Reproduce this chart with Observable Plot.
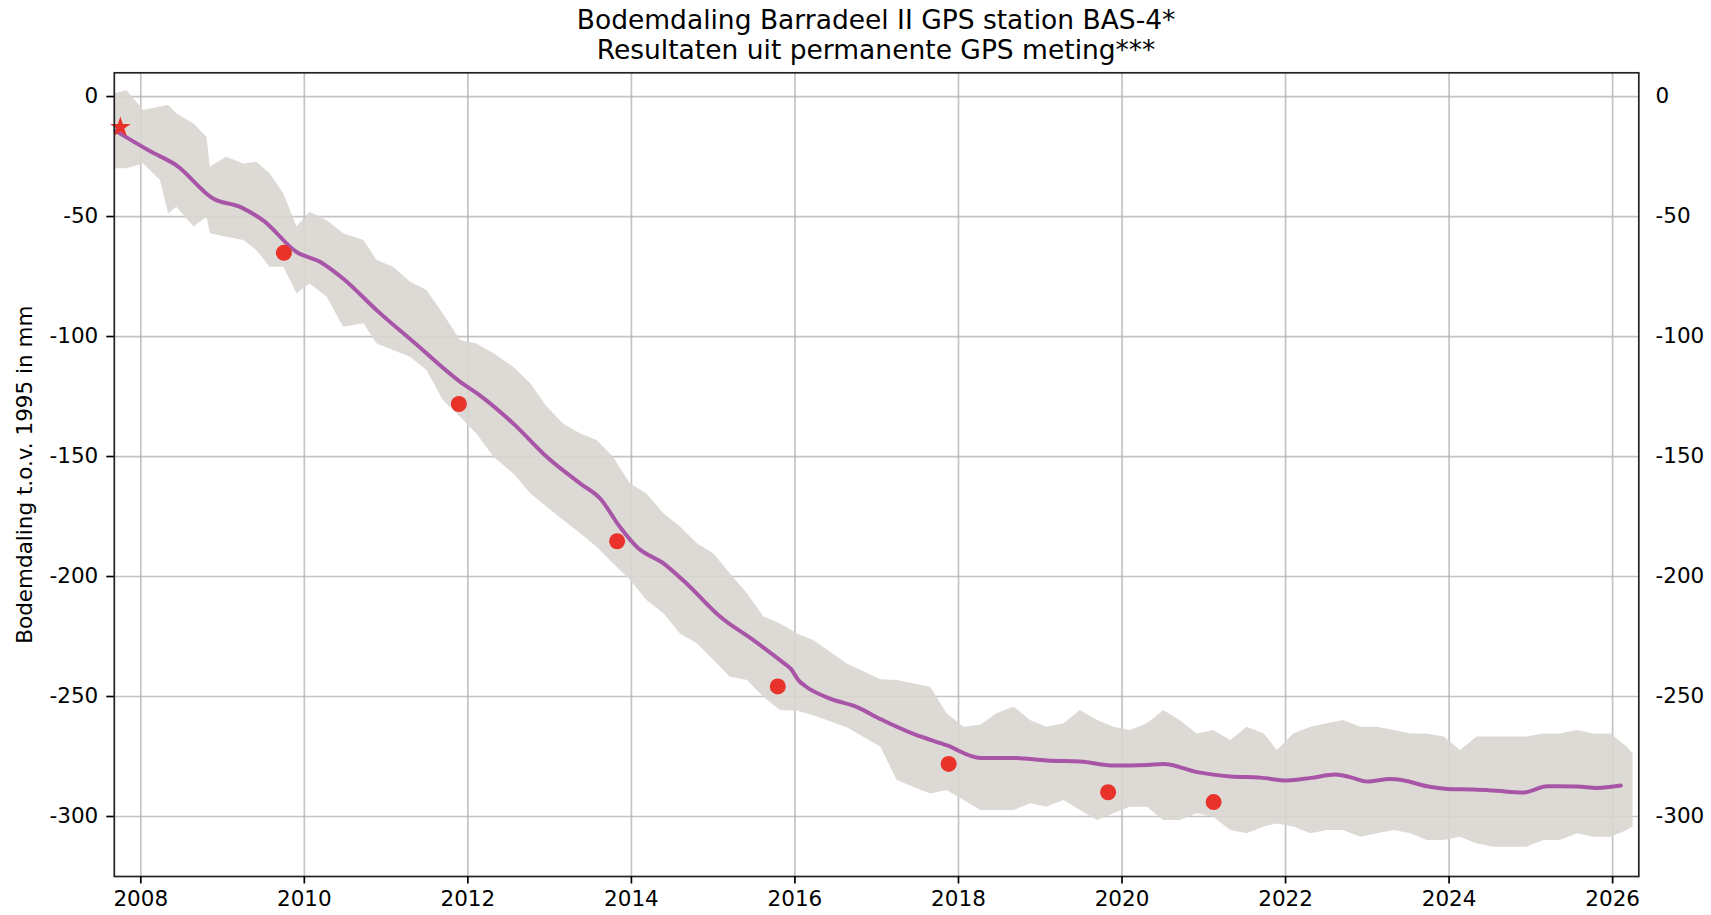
<!DOCTYPE html>
<html>
<head>
<meta charset="utf-8">
<script src="https://cdn.jsdelivr.net/npm/d3@7"></script>
<script src="https://cdn.jsdelivr.net/npm/@observablehq/plot@0.6"></script>
<style>
  body { margin: 0; background: #fff; font-family: "DejaVu Sans", sans-serif; }
  #title { height: 60px; box-sizing: border-box; padding: 5px 72.7px 0 113.8px; text-align: center;
           font-size: 26.5px; line-height: 30px; color: #000; white-space: nowrap; }
  #chart svg { display: block; }
</style>
</head>
<body>
<div id="title">
  <div>Bodemdaling Barradeel II GPS station BAS-4*</div>
  <div>Resultaten uit permanente GPS meting***</div>
</div>
<div id="chart"></div>
<script>
// ---- Data ----
const titleLines = ["Bodemdaling Barradeel II GPS station BAS-4*", "Resultaten uit permanente GPS meting***"];
const yLabel = "Bodemdaling t.o.v. 1995 in mm";
const xTicks = [2008, 2010, 2012, 2014, 2016, 2018, 2020, 2022, 2024, 2026];
const yTicks = [0, -50, -100, -150, -200, -250, -300];

// Smoothed trend (purple line): decimal year, mm
const trendYears = [2007.688, 2008.116, 2008.44, 2008.89, 2009.22, 2009.50, 2009.91, 2010.20, 2010.48, 2010.89,
  2011.34, 2011.91, 2012.15, 2012.56, 2012.97, 2013.38, 2013.62, 2013.86, 2014.07, 2014.40,
  2014.68, 2015.09, 2015.50, 2015.86, 2015.95, 2016.05, 2016.12, 2016.44, 2016.76, 2017.05,
  2017.45, 2017.86, 2018.27, 2018.68, 2019.08, 2019.49, 2019.90, 2020.31, 2020.51, 2020.92,
  2021.33, 2021.69, 2022.02, 2022.31, 2022.61, 2022.79, 2023.00, 2023.28, 2023.45, 2023.73,
  2023.98, 2024.30, 2024.55, 2024.91, 2025.20, 2025.57, 2025.81, 2026.10];
const trendValues = [-14.2, -22.8, -28.75, -42.6, -46.1, -51.7, -64.9, -69.0, -76.0, -89.2,
  -102.4, -119.0, -124.6, -136.4, -150.3, -161.4, -167.6, -179.4, -187.8, -194.7,
  -203.1, -216.9, -226.7, -236.0, -238.5, -243.5, -245.5, -251.0, -254.4, -259.5,
  -265.6, -270.4, -275.6, -275.6, -276.7, -277.1, -278.75, -278.5, -278.1, -281.5,
  -283.3, -283.8, -285.0, -283.9, -282.5, -283.6, -285.4, -284.4, -285.0, -287.4,
  -288.5, -288.75, -289.2, -290.0, -287.4, -287.5, -288.1, -287.1];

// Daily GPS measurements shown as their spread (upper / lower envelope of the grey band)
const bandYears = [2007.676, 2007.83, 2008.035, 2008.24, 2008.34, 2008.44, 2008.65, 2008.81, 2008.85, 2009.05,
  2009.26, 2009.42, 2009.58, 2009.75, 2009.91, 2010.07, 2010.28, 2010.48, 2010.73, 2010.89,
  2011.09, 2011.30, 2011.50, 2011.70, 2011.91, 2012.11, 2012.32, 2012.56, 2012.77, 2012.97,
  2013.17, 2013.38, 2013.58, 2013.78, 2013.99, 2014.19, 2014.40, 2014.60, 2014.81, 2015.01,
  2015.21, 2015.42, 2015.62, 2015.82, 2016.03, 2016.23, 2016.64, 2017.05, 2017.25, 2017.45,
  2017.66, 2017.86, 2018.07, 2018.27, 2018.47, 2018.68, 2018.88, 2019.08, 2019.29, 2019.49,
  2019.70, 2019.90, 2020.10, 2020.31, 2020.51, 2020.71, 2020.92, 2021.12, 2021.33, 2021.53,
  2021.74, 2021.90, 2022.10, 2022.31, 2022.51, 2022.71, 2022.92, 2023.12, 2023.33, 2023.53,
  2023.73, 2023.94, 2024.14, 2024.34, 2024.55, 2024.75, 2024.95, 2025.16, 2025.36, 2025.57,
  2025.77, 2025.98, 2026.18, 2026.25];
const bandUpper = [1.1, 2.5, -5.8, -4.4, -3.7, -7.2, -11.4, -17.0, -29.4, -25.3,
  -28.1, -27.4, -32.2, -40.6, -54.4, -48.2, -51.7, -57.2, -60.0, -68.3,
  -71.1, -77.4, -80.8, -90.6, -101.7, -103.1, -107.2, -112.8, -119.7, -129.4,
  -136.4, -140.6, -143.3, -150.3, -161.4, -165.6, -173.9, -179.4, -186.4, -190.6,
  -198.9, -207.2, -216.9, -219.7, -223.9, -226.7, -236.4, -243.0, -243.3, -244.7,
  -246.1, -257.2, -262.8, -262.0, -257.2, -254.4, -260.0, -262.8, -261.4, -255.8,
  -260.0, -262.8, -264.2, -261.4, -255.8, -260.0, -265.6, -264.2, -268.3, -262.8,
  -265.6, -272.5, -265.6, -262.8, -261.4, -260.0, -262.8, -262.8, -264.2, -265.6,
  -265.6, -266.9, -272.5, -266.9, -266.9, -266.9, -266.9, -265.6, -265.6, -264.2,
  -265.6, -265.6, -271.1, -273.9];
const bandLower = [-30.1, -30.1, -28.1, -35.0, -48.9, -46.1, -54.4, -50.3, -57.2, -58.6,
  -60.0, -64.2, -71.1, -71.1, -82.2, -78.1, -83.6, -96.1, -94.7, -103.1,
  -105.8, -108.6, -114.2, -126.7, -133.6, -140.6, -150.3, -157.2, -165.6, -171.1,
  -176.7, -182.2, -187.8, -194.7, -201.7, -210.0, -215.6, -223.9, -228.1, -235.0,
  -242.0, -243.3, -250.3, -255.8, -256.0, -258.0, -263.0, -271.0, -285.0, -287.8,
  -290.6, -289.2, -293.3, -297.5, -297.5, -297.5, -294.7, -296.1, -293.3, -297.5,
  -301.7, -298.9, -296.1, -296.1, -301.7, -301.7, -298.9, -300.3, -305.8, -307.2,
  -304.4, -303.1, -304.4, -307.2, -305.8, -305.8, -308.6, -307.2, -305.8, -307.2,
  -310.0, -310.0, -308.6, -311.4, -312.8, -312.8, -312.8, -310.0, -310.0, -307.2,
  -308.6, -308.6, -305.8, -304.4];

// Survey points (red dots) and reference point (red star)
const surveyYears = [2009.75, 2011.89, 2013.825, 2015.79, 2017.88, 2019.83, 2021.12];
const surveyValues = [-65.1, -128.1, -185.3, -245.8, -278.1, -289.9, -294.0];
const starYears = [2007.75];
const starValues = [-12.8];

// ---- Tables built from the arrays ----
const trend = trendYears.map((year, i) => ({year, value: trendValues[i]}));
const band = bandYears.map((year, i) => ({year, upper: bandUpper[i], lower: bandLower[i]}));
const surveys = surveyYears.map((year, i) => ({year, value: surveyValues[i]}));
const stars = starYears.map((year, i) => ({year, value: starValues[i]}));

const fmt = d => String(d);

const chart = Plot.plot({
  width: 1711,
  height: 855,
  marginTop: 12.3,
  marginBottom: 39,
  marginLeft: 113.8,
  marginRight: 72.7,
  style: {fontFamily: "DejaVu Sans, sans-serif", fontSize: "21.5px", color: "#000", background: "#fff", overflow: "visible"},
  x: {type: "linear", domain: [2007.676, 2026.32]},
  y: {domain: [-325, 9.9]},
  marks: [
    Plot.gridX(xTicks, {stroke: "#b0b0b0", strokeOpacity: 0.75, strokeWidth: 1.7}),
    Plot.gridY(yTicks, {stroke: "#b0b0b0", strokeOpacity: 0.75, strokeWidth: 1.7}),
    Plot.areaY(band, {x: "year", y1: "lower", y2: "upper", fill: "#d9d6d1", fillOpacity: 0.9}),
    Plot.line(trend, {x: "year", y: "value", stroke: "#a855a8", strokeWidth: 4, curve: "monotone-x"}),
    Plot.dot(surveys, {x: "year", y: "value", r: 8, fill: "#e8322a", stroke: null}),
    Plot.dot(stars, {x: "year", y: "value", symbol: "star", r: 6.5, fill: "#e8322a", stroke: null}),
    Plot.frame({stroke: "#222", strokeWidth: 1.7}),
    Plot.axisX({ticks: xTicks, tickFormat: fmt, tickSize: 7.5, tickPadding: 6.5, strokeWidth: 1.7, label: null, fontSize: 21.5}),
    Plot.axisY({anchor: "left", ticks: yTicks, tickFormat: fmt, tickSize: 7.5, tickPadding: 8.5, strokeWidth: 1.7, label: null, fontSize: 21.5}),
    Plot.axisY({anchor: "right", ticks: yTicks, tickFormat: fmt, tickSize: 0, tickPadding: 16.7, label: null, fontSize: 21.5}),
    Plot.text([yLabel], {text: d => d, frameAnchor: "left", dx: -89.5, rotate: -90, textAnchor: "middle", lineAnchor: "middle", fontSize: 21.5, fill: "#000"})
  ]
});
document.getElementById("chart").appendChild(chart);
</script>
</body>
</html>
